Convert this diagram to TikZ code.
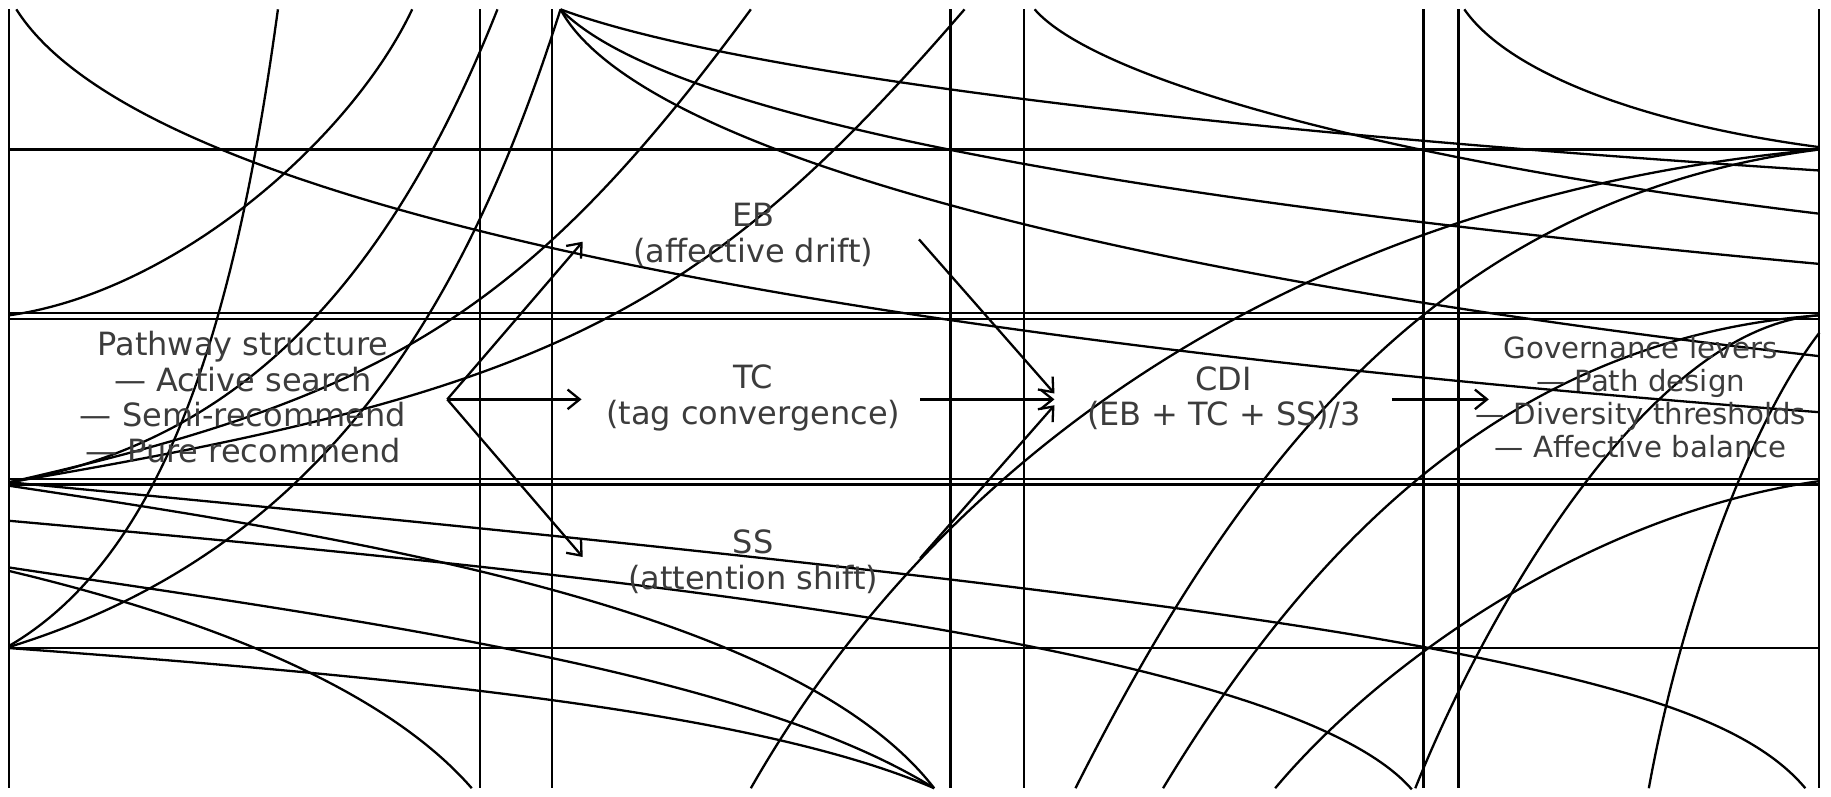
\documentclass[tikz,border=0pt]{standalone}
\usepackage{fontspec}
\setmainfont{DejaVu Sans}
\usetikzlibrary{arrows.meta}
\definecolor{labelgray}{HTML}{3C3C3C}
\begin{document}
\begin{tikzpicture}[x=0.25mm,y=-0.25mm,
  edge/.style={line width=1.4pt, black},
  curve/.style={line width=1.4pt, black},
  flow/.style={line width=1.4pt, black, -{Straight Barb[length=2.6mm,width=4.2mm]}},
  lbl/.style={text=labelgray, align=center, font=\fontsize{19.5}{21.8}\selectfont, inner sep=0pt},
  glbl/.style={text=labelgray, align=center, font=\fontsize{17.8}{20}\selectfont, inner sep=0pt}]
\useasboundingbox[fill=white] (0,0) rectangle (1568,682.5);

% box edge lines
\foreach \y in {128,268,273,410,415,555} \draw[edge] (8,\y) -- (1558,\y);
\foreach \x in {8,411,473,814,877,1219,1249,1558} \draw[edge] (\x,8) -- (\x,675);

% corner curves
\draw[curve] (14,8) .. controls (110,160) and (600,280) .. (1558,353);
\draw[curve] (238,8) .. controls (205,250) and (150,470) .. (8,553);
\draw[curve] (353,8) .. controls (300,120) and (150,250) .. (8,270);
\draw[curve] (426,8) .. controls (330,250) and (200,380) .. (8,413);
\draw[curve] (480,8) .. controls (400,260) and (280,470) .. (8,554);
\draw[curve] (826,8) .. controls (600,270) and (470,335) .. (8,413);
\draw[curve] (643,8) .. controls (450,270) and (330,340) .. (8,413);
\draw[curve] (480,8) .. controls (620,60) and (1000,110) .. (1558,146);
\draw[curve] (480,8) .. controls (570,100) and (950,170) .. (1558,226);
\draw[curve] (480,8) .. controls (540,120) and (900,230) .. (1558,305);
\draw[curve] (886,8) .. controls (940,70) and (1200,140) .. (1558,183);
\draw[curve] (1254,8) .. controls (1290,60) and (1400,105) .. (1558,126);
\draw[curve] (643,675) .. controls (800,400) and (1100,170) .. (1558,128);
\draw[curve] (921,675) .. controls (1060,400) and (1230,170) .. (1558,128);
\draw[curve] (996,675) .. controls (1120,470) and (1290,290) .. (1558,270);
\draw[curve] (1092,675) .. controls (1180,570) and (1360,440) .. (1558,412);
\draw[curve] (1212,675) .. controls (1270,530) and (1410,280) .. (1558,270);
\draw[curve] (1412,675) .. controls (1440,520) and (1500,360) .. (1558,285);
\draw[curve] (8,413) .. controls (500,460) and (1000,510) .. (1250,560) .. controls (1400,590) and (1500,620) .. (1546,675);
\draw[curve] (8,416) .. controls (300,460) and (680,520) .. (800,675);
\draw[curve] (8,446) .. controls (500,490) and (1100,550) .. (1209,676);
\draw[curve] (8,486) .. controls (300,530) and (640,575) .. (800,675);
\draw[curve] (8,489) .. controls (180,530) and (330,590) .. (404,675);
\draw[curve] (8,555) .. controls (350,580) and (650,610) .. (800,675);

% labels
\node[lbl] (pw) at (208,340) {Pathway structure\\— Active search\\— Semi-recommend\\— Pure recommend};
\node[lbl] (eb) at (645,201) {EB\\(affective drift)};
\node[lbl] (tc) at (645,341) {TC\\(tag convergence)};
\node[lbl] (ss) at (645,481) {SS\\(attention shift)};
\node[lbl] (cdi) at (1048,341) {CDI\\(EB + TC + SS)/3};
\node[glbl] (gov) at (1405,340) {Governance levers\\— Path design\\— Diversity thresholds\\— Affective balance};

% connector anchor points
\coordinate (pwout) at (383,342);
\coordinate (ebin) at (499,207);
\coordinate (tcin) at (498,342);
\coordinate (ssin) at (499,477);
\coordinate (ebout) at (787,205);
\coordinate (tcout) at (788,342);
\coordinate (ssout) at (788,478);
\coordinate (cdiin1) at (903,337);
\coordinate (cdiin2) at (903,342);
\coordinate (cdiin3) at (903,347);
\coordinate (cdiout) at (1192,342);
\coordinate (govin) at (1275,342);

\draw[flow] (pwout) -- (tcin);
\draw[flow] (pwout) -- (ebin);
\draw[flow] (pwout) -- (ssin);
\draw[flow] (tcout) -- (cdiin2);
\draw[flow] (ebout) -- (cdiin1);
\draw[flow] (ssout) -- (cdiin3);
\draw[flow] (cdiout) -- (govin);
\end{tikzpicture}
\end{document}
